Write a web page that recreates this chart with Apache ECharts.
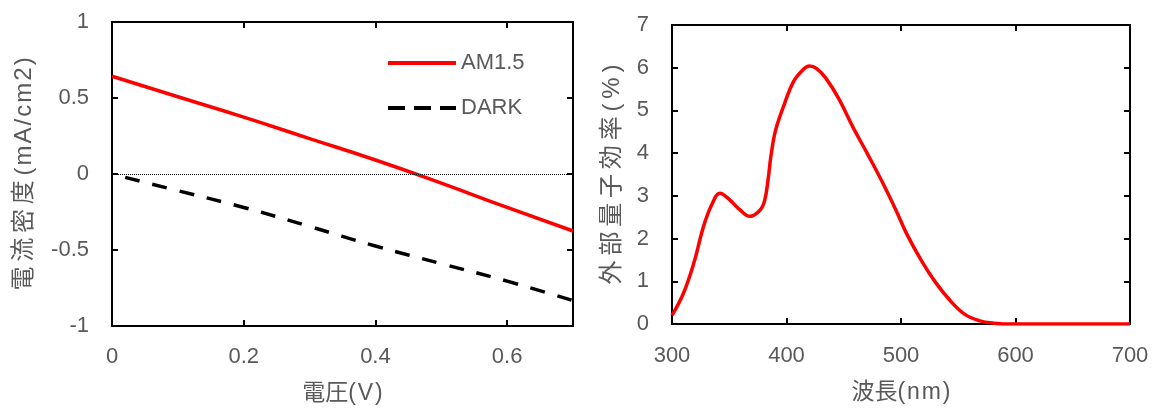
<!DOCTYPE html>
<html>
<head>
<meta charset="utf-8">
<script src="https://cdn.jsdelivr.net/npm/echarts@6/dist/echarts.min.js"></script>
<style>
  html, body { margin: 0; padding: 0; background: #fff; }
  #main { width: 1155px; height: 410px; }
</style>
</head>
<body>
<div id="main"></div>
<script>
// 左: 電流密度-電圧
var voltAM = [0, 0.1, 0.2, 0.3, 0.4, 0.5, 0.6, 0.7]
var currAM = [0.643, 0.508, 0.374, 0.233, 0.092, -0.06, -0.22, -0.375]
var voltDark = [0.02, 0.1, 0.2, 0.3, 0.4, 0.5, 0.6, 0.7]
var currDark = [-0.022, -0.11, -0.22, -0.345, -0.474, -0.59, -0.705, -0.833]

// 右: 外部量子効率
var waveLen = [300, 310, 319, 327.5, 334.7, 341.9, 349, 359.4, 368, 377, 381, 384, 386.5,
  390.5, 398.3, 406, 414, 420, 426.4, 434.5, 445.5, 458, 470.6, 483, 495.7,
  505, 517.7, 530, 542.9, 555.5, 568, 580.6, 599, 650, 700]
var eqe = [0.2, 0.72, 1.42, 2.28, 2.79, 3.06, 2.94, 2.67, 2.52, 2.67, 2.9, 3.4, 3.95,
  4.54, 5.16, 5.67, 5.94, 6.04, 5.98, 5.75, 5.28, 4.61, 3.99, 3.36, 2.66,
  2.11, 1.49, 0.98, 0.55, 0.23, 0.08, 0.02, 0, 0, 0]

var textGray = '#595959'
var fontLatin = '"Liberation Sans", Arial, "Noto Sans CJK JP", sans-serif'
var fontCJK = '"Liberation Sans", "Noto Sans CJK JP", sans-serif'

// 字間を少し空ける
function spaced(s, sep) {
  return s.split('').join(sep)
}
var TH = '\u2009'
var HR = '\u200A'

function zip(xs, ys) {
  var out = []
  for (var i = 0; i < xs.length; i++) out.push([xs[i], ys[i]])
  return out
}

// 目盛り内向き・枠線
function mainAxis(pos, idx, min, max, interval, name, nameGap, nameSize, margin, showMax) {
  return {
    type: 'value', gridIndex: idx, position: pos, min: min, max: max, interval: interval,
    name: name, nameLocation: 'middle', nameGap: nameGap,
    nameTextStyle: { color: textGray, fontSize: nameSize, fontFamily: fontCJK },
    axisLine: { show: true, onZero: false, lineStyle: { color: '#000', width: 2 } },
    axisTick: { show: true, inside: true, length: 6, lineStyle: { color: '#000', width: 2 } },
    axisLabel: { color: textGray, fontSize: 22, fontFamily: fontLatin, margin: margin, showMaxLabel: showMax },
    splitLine: { show: false }
  }
}
function mirrorAxis(pos, idx, min, max, interval) {
  return {
    type: 'value', gridIndex: idx, position: pos, min: min, max: max, interval: interval,
    axisLine: { show: true, onZero: false, lineStyle: { color: '#000', width: 2 } },
    axisTick: { show: true, inside: true, length: 6, lineStyle: { color: '#000', width: 2 } },
    axisLabel: { show: false },
    splitLine: { show: false }
  }
}

var chart = echarts.init(document.getElementById('main'))
chart.setOption({
  animation: false,
  backgroundColor: '#fff',
  grid: [
    { left: 112, top: 22, width: 461, height: 304 },
    { left: 672, top: 25, width: 458, height: 299 }
  ],
  legend: {
    data: [
      { name: 'AM1.5' },
      { name: 'DARK', lineStyle: { type: [17, 9] } }
    ],
    orient: 'vertical',
    left: 381, top: 47,
    itemWidth: 68, itemHeight: 14, itemGap: 23,
    itemStyle: { opacity: 0 },
    lineStyle: { width: 4 },
    textStyle: { color: textGray, fontSize: 22, fontFamily: fontLatin, lineHeight: 22 }
  },
  xAxis: [
    mainAxis('bottom', 0, 0, 0.7, 0.2, '電圧' + spaced('(V)', HR), 56, 23, 20, false),
    mirrorAxis('top', 0, 0, 0.7, 0.2),
    mainAxis('bottom', 1, 300, 700, 100, '波長' + spaced('(nm)', HR), 57, 23, 21, true),
    mirrorAxis('top', 1, 300, 700, 100)
  ],
  yAxis: [
    mainAxis('left', 0, -1, 1, 0.5, spaced('電流密度', TH) + TH + spaced('(mA/cm2)', HR), 76, 24, 23, true),
    mirrorAxis('right', 0, -1, 1, 0.5),
    mainAxis('left', 1, 0, 7, 1, spaced('外部量子効率(%)', TH), 48, 24, 23, true),
    mirrorAxis('right', 1, 0, 7, 1)
  ],
  series: [
    {
      name: 'AM1.5', type: 'line', xAxisIndex: 0, yAxisIndex: 0,
      data: zip(voltAM, currAM), smooth: true, symbol: 'none',
      lineStyle: { color: '#ff0000', width: 3.5 }, itemStyle: { color: '#ff0000' }
    },
    {
      name: 'DARK', type: 'line', xAxisIndex: 0, yAxisIndex: 0,
      data: zip(voltDark, currDark), smooth: true, symbol: 'none',
      lineStyle: { color: '#000', width: 3.5, type: [15, 13] }, itemStyle: { color: '#000' },
      markLine: {
        silent: true, symbol: 'none', label: { show: false },
        lineStyle: { color: '#000', width: 1, type: [1, 1] },
        data: [{ yAxis: 0 }]
      }
    },
    {
      name: 'EQE', type: 'line', xAxisIndex: 2, yAxisIndex: 2,
      data: zip(waveLen, eqe), smooth: 0.4, symbol: 'none',
      lineStyle: { color: '#ff0000', width: 3.5 }
    }
  ]
})
</script>
</body>
</html>
